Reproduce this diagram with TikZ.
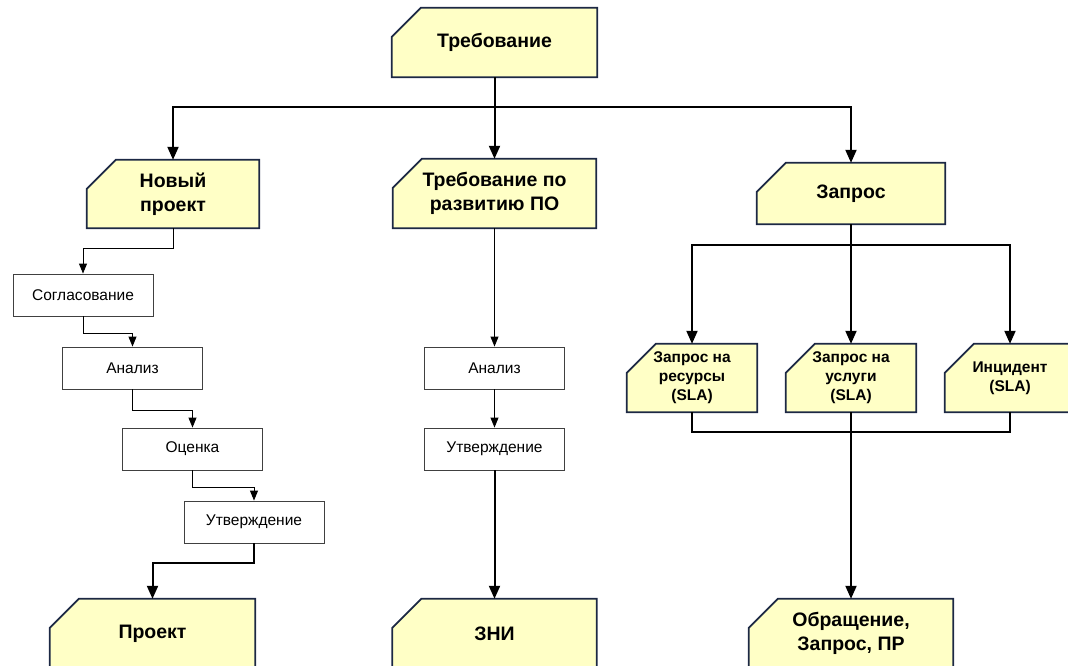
\documentclass[tikz,border=0pt]{standalone}
\usepackage{fontspec}
\setmainfont{Liberation Sans}
\usetikzlibrary{arrows.meta,backgrounds}

\definecolor{boxfill}{RGB}{255,255,198}
\definecolor{boxedge}{RGB}{28,40,68}

\begin{document}
\begin{tikzpicture}
  [x=1pt,y=-1pt,
   bigbox/.style={rectangle,inner sep=0pt,align=center,
     font=\bfseries\fontsize{19.5}{24}\selectfont},
   smallbox/.style={rectangle,inner sep=0pt,align=center,
     minimum width=130pt,minimum height=68pt,
     font=\bfseries\fontsize{15.5}{19}\selectfont},
   stepbox/.style={rectangle,draw=black!75,line width=.9pt,inner sep=0pt,
     minimum width=140pt,minimum height=42pt,
     font=\fontsize{15.5}{18}\selectfont},
   thickline/.style={line width=2pt,-{Triangle[length=13pt,width=11pt]}},
   thinline/.style={line width=.9pt,-{Triangle[length=10pt,width=8pt]}}]
  \useasboundingbox (0,0) rectangle (1068,666);
  \clip (0,0) rectangle (1068,666);

  % top and second row
  \node[bigbox,minimum width=205pt,minimum height=69pt] (req) at (494.5,42.5) {Требование};
  \node[bigbox,minimum width=172pt,minimum height=68pt] (newproj) at (173,194) {Новый\\проект};
  \node[bigbox,minimum width=203pt,minimum height=69pt] (reqpo) at (494.5,193.5) {Требование по\\развитию ПО};
  \node[bigbox,minimum width=188pt,minimum height=61pt] (query) at (851,193.5) {Запрос};

  % steps
  \node[stepbox] (agree) at (83,295) {Согласование};
  \node[stepbox] (anal1) at (132.5,368) {Анализ};
  \node[stepbox] (eval) at (192.5,449) {Оценка};
  \node[stepbox] (appr1) at (254,522) {Утверждение};
  \node[stepbox] (anal2) at (494.5,368) {Анализ};
  \node[stepbox] (appr2) at (494.5,449) {Утверждение};

  % kinds of query
  \node[smallbox] (res) at (692,378) {Запрос на\\ресурсы\\(SLA)};
  \node[smallbox] (serv) at (851,378) {Запрос на\\услуги\\(SLA)};
  \node[smallbox] (inc) at (1010,378) {Инцидент\\(SLA)};

  % results
  \node[bigbox,minimum width=205pt,minimum height=69pt] (project) at (152.5,633.5) {Проект};
  \node[bigbox,minimum width=204pt,minimum height=69pt] (zni) at (494.5,633.5) {ЗНИ};
  \node[bigbox,minimum width=204pt,minimum height=69pt] (appeal) at (851,633.5) {Обращение,\\Запрос, ПР};

  \begin{scope}[on background layer]
    \foreach \n in {req,newproj,reqpo,query,res,serv,inc,project,zni,appeal}
      \filldraw[fill=boxfill,draw=boxedge,line width=1.8pt,line join=miter]
        ([xshift=29pt]\n.north west) -- (\n.north east) -- (\n.south east)
        -- (\n.south west) -- ([yshift=-29pt]\n.north west) -- cycle;
  \end{scope}

  \coordinate (split) at (494.5,107);
  \coordinate (qsplit) at (851,245);

  \draw[line width=2pt] (req.south) -- (split);
  \draw[thickline] (split) -| (newproj.north);
  \draw[thickline] (split) -- (reqpo.north);
  \draw[thickline] (split) -| (query.north);

  \foreach \from/\to/\drop in {newproj/agree/20,agree/anal1/17,anal1/eval/21,eval/appr1/17}
    \draw[thinline] (\from.south) -- ++(0,\drop) -| (\to.north);
  \draw[thickline] (appr1.south) -- ++(0,20) -| (project.north);

  \foreach \from/\to in {reqpo/anal2,anal2/appr2}
    \draw[thinline] (\from) -- (\to);
  \draw[thickline] (appr2) -- (zni);

  \draw[line width=2pt] (query.south) -- (qsplit);
  \draw[thickline] (qsplit) -| (res.north);
  \draw[thickline] (qsplit) -- (serv.north);
  \draw[thickline] (qsplit) -| (inc.north);
  \draw[line width=2pt] (res.south) -- ++(0,20) -| (inc.south);
  \draw[thickline] (serv.south) -- (appeal.north);

\end{tikzpicture}
\end{document}
